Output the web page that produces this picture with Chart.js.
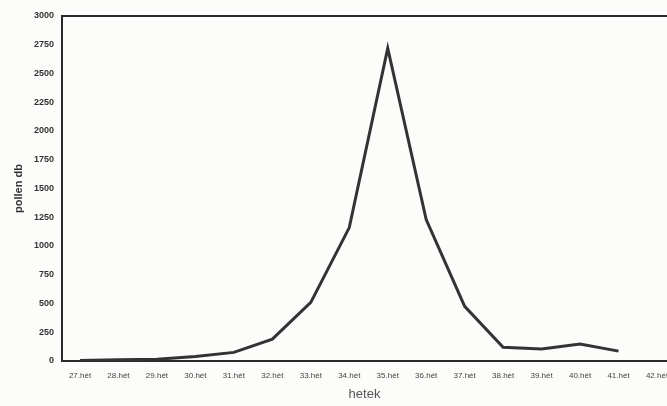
<!DOCTYPE html>
<html>
<head>
<meta charset="utf-8">
<script src="https://cdn.jsdelivr.net/npm/chart.js@4/dist/chart.umd.min.js"></script>
<style>
html,body{margin:0;padding:0;background:#fcfcfa;}
#wrap{width:667px;height:406px;position:relative;}
</style>
</head>
<body>
<div id="wrap"><canvas id="c" width="667" height="406"></canvas></div>
<script>
const weekNumbers = [27,28,29,30,31,32,33,34,35,36,37,38,39,40,41,42];
const weekLabels = ["27.hét","28.hét","29.hét","30.hét","31.hét","32.hét","33.hét","34.hét","35.hét","36.hét","37.hét","38.hét","39.hét","40.hét","41.hét","42.hét"];
const pollenValues = [5,10,15,40,75,190,510,1160,2720,1230,475,120,104,147,86,null];
const yTicks = [0,250,500,750,1000,1250,1500,1750,2000,2250,2500,2750,3000];

const points = weekNumbers.map((w,i)=>({x:w,y:pollenValues[i]}));

const topBorder = {
  id:'topBorder',
  afterDraw(chart){
    const {ctx, chartArea} = chart;
    ctx.save();
    ctx.strokeStyle = '#2a2a2a';
    ctx.lineWidth = 2;
    ctx.beginPath();
    ctx.moveTo(chartArea.left, chartArea.top);
    ctx.lineTo(chartArea.right, chartArea.top);
    ctx.stroke();
    ctx.restore();
  }
};

new Chart(document.getElementById('c'), {
  type:'line',
  data:{datasets:[{
    data: points,
    borderColor:'#333333',
    borderWidth:3,
    pointRadius:0,
    tension:0,
    spanGaps:false
  }]},
  options:{
    responsive:false,
    animation:false,
    layout:{padding:{top:16,right:0,left:0,bottom:0}},
    plugins:{legend:{display:false},tooltip:{enabled:false}},
    scales:{
      x:{
        type:'linear',
        min:26.532,
        max:42.26,
        afterBuildTicks(scale){ scale.ticks = weekNumbers.map(v=>({value:v})); },
        afterFit(scale){ scale.height = 45; scale.paddingLeft = 0; scale.paddingRight = 0; },
        grid:{display:false, drawTicks:false},
        border:{color:'#2a2a2a', width:2},
        ticks:{
          autoSkip:false, maxRotation:0, padding:10,
          color:'#444',
          font:{family:'Liberation Sans', size:8},
          callback:(v)=>{ const i = weekNumbers.indexOf(v); return i>=0 ? weekLabels[i] : ''; }
        },
        title:{display:true, text:'hetek', color:'#555', font:{family:'Liberation Sans', size:13}, padding:{top:2,bottom:4}}
      },
      y:{
        min:0, max:3000,
        afterBuildTicks(scale){ scale.ticks = yTicks.map(v=>({value:v})); },
        afterFit(scale){ scale.width = 62; },
        grid:{display:false, drawOnChartArea:false, drawTicks:true, tickLength:4, tickColor:'#444'},
        border:{color:'#2a2a2a', width:2},
        ticks:{
          padding:4,
          color:'#333',
          font:{family:'Liberation Sans', size:9, weight:'bold'},
          callback:(v)=>String(v)
        },
        title:{display:true, text:'pollen db', color:'#333', font:{family:'Liberation Sans', size:11, weight:'bold'}, padding:{top:12,bottom:4}}
      }
    }
  },
  plugins:[topBorder]
});
</script>
</body>
</html>
